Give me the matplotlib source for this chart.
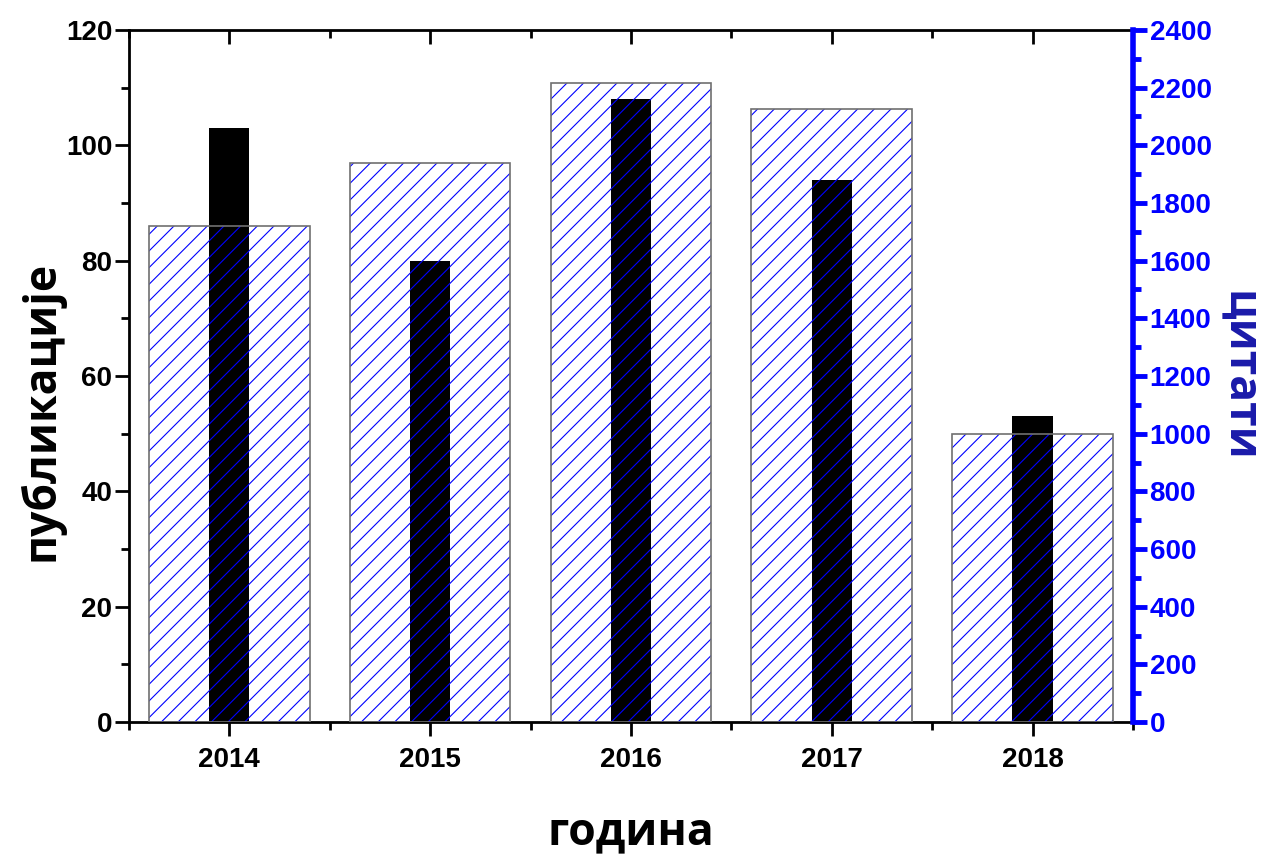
import matplotlib
matplotlib.use("Agg")
import matplotlib.pyplot as plt
from matplotlib.ticker import MultipleLocator, FixedLocator
from matplotlib.font_manager import FontProperties

years = [2014, 2015, 2016, 2017, 2018]
publications = [103, 80, 108, 94, 53]
citations = [1720, 1940, 2215, 2125, 1000]
xlabel = "година"
ylabel_left = "публикације"
ylabel_right = "цитати"

plt.rcParams['hatch.linewidth'] = 0.8

fig = plt.figure(figsize=(12.68, 8.56), dpi=100)
ax = fig.add_axes([0.1017, 0.1565, 0.7918, 0.965 - 0.1565])
ax2 = ax.twinx()

# black bars (publications) on left axis
ax.bar(years, publications, width=0.2, color='black', zorder=2)
ax.set_xlim(2013.5, 2018.5)
ax.set_ylim(0, 120)

# hatched bars (citations) on right axis
ax2.bar(years, citations, width=0.8, facecolor='none', edgecolor='blue',
        hatch='//', linewidth=0, zorder=2)
ax2.bar(years, citations, width=0.8, facecolor='none', edgecolor='#707070',
        linewidth=1.2, zorder=3)
ax2.set_ylim(0, 2400)

tick_font = dict(family='Liberation Sans', weight='bold', size=20)

# left axis
ax.yaxis.set_major_locator(MultipleLocator(20))
ax.yaxis.set_minor_locator(MultipleLocator(10))
ax.tick_params(axis='y', which='major', direction='out', length=10, width=2, colors='black', pad=2)
ax.tick_params(axis='y', which='minor', direction='out', length=6, width=2, colors='black')
ax.set_xticks(years)
ax.set_xticklabels([str(y) for y in years])
ax.xaxis.set_minor_locator(FixedLocator([2013.5 + i for i in range(6)]))
ax.tick_params(axis='x', which='major', direction='out', length=10, width=2, pad=8, top=True)
ax.tick_params(axis='x', which='minor', direction='out', length=6, width=2, top=True)
for lab in ax.get_yticklabels() + ax.get_xticklabels():
    lab.set_fontproperties(FontProperties(**tick_font))

for t in ax.xaxis.get_major_ticks():
    t.tick2line.set_marker(3)  # tick pointing down (inward at top)
    t.tick2line.set_markersize(10)
for t in ax.xaxis.get_minor_ticks():
    t.tick2line.set_marker(3)
    t.tick2line.set_markersize(6)

for sp in ['left', 'top', 'bottom']:
    ax.spines[sp].set_linewidth(2)
ax2.spines['right'].set_color('blue')
ax2.spines['right'].set_linewidth(4)
ax2.spines['left'].set_visible(False)
ax2.spines['top'].set_visible(False)
ax2.spines['bottom'].set_visible(False)
ax.spines['right'].set_visible(False)

ax2.yaxis.set_major_locator(MultipleLocator(200))
ax2.yaxis.set_minor_locator(MultipleLocator(100))
ax2.tick_params(axis='y', which='major', direction='out', length=10, width=3.5, colors='blue', pad=2)
ax2.tick_params(axis='y', which='minor', direction='out', length=6, width=3.5, colors='blue')
for lab in ax2.get_yticklabels():
    lab.set_fontproperties(FontProperties(**tick_font))
    lab.set_color('blue')

label_font = dict(family='Open Sans', weight='bold', size=32)
ax.set_xlabel(xlabel, labelpad=27, **label_font)
ax.set_ylabel(ylabel_left, **label_font)
ax.yaxis.set_label_coords(-0.064, 0.45)
ax2.set_ylabel(ylabel_right, rotation=-90, labelpad=36, color='#1a1aaa', **label_font)

fig.savefig('out.png', dpi=100)
